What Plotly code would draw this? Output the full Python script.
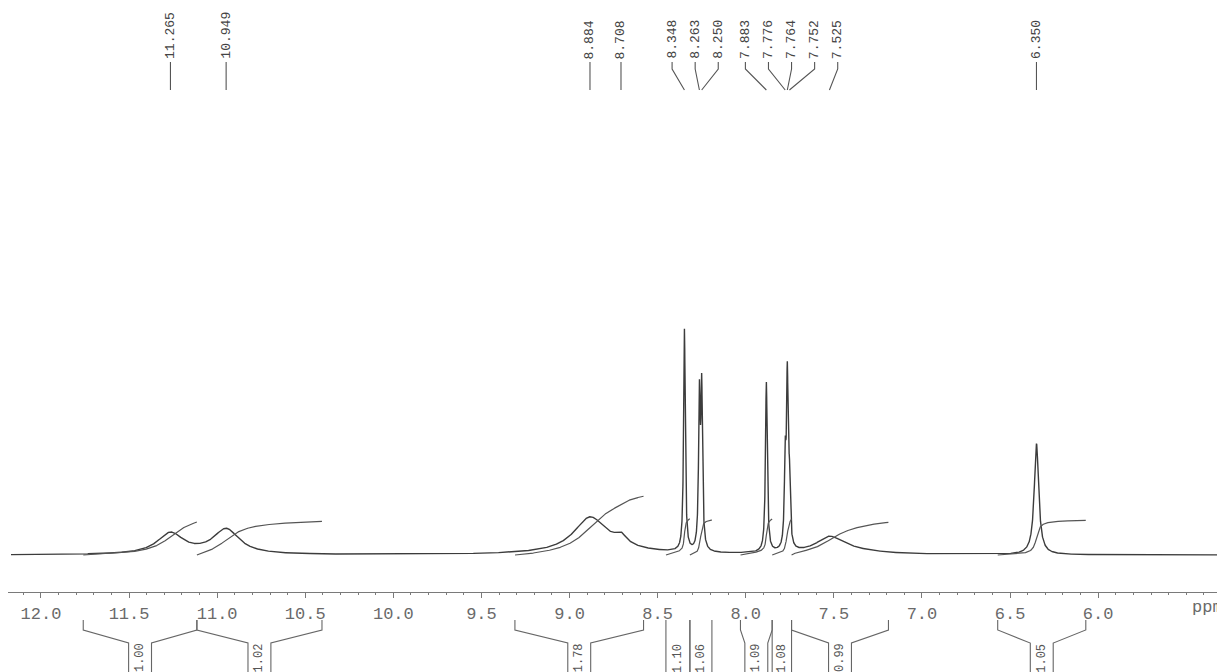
import numpy as np
import plotly.graph_objects as go

# ---------------- data ----------------
# labelled peaks (chemical shift, ppm)
peak_ppm = [11.265, 10.949, 8.884, 8.708, 8.348, 8.263, 8.250, 7.883, 7.776, 7.764, 7.752, 7.525, 6.350]
peak_height = [21, 25, 33, 9, 222, 148, 156, 170, 82, 165, 61, 15, 111]
peak_fwhm = [0.18, 0.18, 0.22, 0.08, 0.011, 0.011, 0.011, 0.012, 0.011, 0.011, 0.011, 0.18, 0.03]
# unlabelled broad components under the humps
broad_ppm = [8.80, 7.42]
broad_height = [5, 4]
broad_fwhm = [0.5, 0.4]

# integration regions and values
integral_start = [11.76, 11.115, 9.31, 8.453, 8.317, 8.03, 7.85, 7.74, 6.57]
integral_end = [11.115, 10.405, 8.58, 8.317, 8.192, 7.85, 7.74, 7.19, 6.07]
integral_value = [1.00, 1.02, 1.78, 1.10, 1.06, 1.09, 1.08, 0.99, 1.05]

# axis ticks
tick_vals = [12.0, 11.5, 11.0, 10.5, 10.0, 9.5, 9.0, 8.5, 8.0, 7.5, 7.0, 6.5, 6.0, 5.5]
tick_text = ["12.0", "11.5", "11.0", "10.5", "10.0", "9.5", "9.0", "8.5", "8.0", "7.5", "7.0", "6.5", "6.0", ""]

# ---------------- styling ----------------
W, H = 1217, 664            # page adds an 8px body margin
X_RANGE = [12.187, 5.28]
INT_SCALE = 33.0            # integral rise per unit
LINE_C = "#3c3c3c"
INT_C = "#555555"
AXIS_C = "#7a7a7a"
MONO = "Liberation Mono"
AXIS_PX = 584               # axis line position inside the figure

# ---------------- spectrum ----------------
ppm = np.linspace(12.17, 5.28, 16000)


def lorentz(x, c, h, w):
    hw = w / 2.0
    return h / (1.0 + ((x - c) / hw) ** 2)


spec = np.zeros_like(ppm)
for c, h, w in zip(peak_ppm, peak_height, peak_fwhm):
    spec += lorentz(ppm, c, h, w)
for c, h, w in zip(broad_ppm, broad_height, broad_fwhm):
    spec += lorentz(ppm, c, h, w)

fig = go.Figure()
fig.add_trace(go.Scatter(x=ppm, y=spec, mode="lines",
                         line=dict(color=LINE_C, width=1.4), hoverinfo="skip", showlegend=False))

# integral curves
for a, b, v in zip(integral_start, integral_end, integral_value):
    m = (ppm <= a) & (ppm >= b)
    xs = ppm[m]
    ys = spec[m]
    cum = np.cumsum(ys)
    cum = cum - cum[0]
    cum = cum / cum[-1] * v * INT_SCALE
    fig.add_trace(go.Scatter(x=xs, y=cum, mode="lines",
                             line=dict(color=INT_C, width=1.2), hoverinfo="skip", showlegend=False))

# ---------------- peak labels (spread to avoid overlap) ----------------
GAP = 0.131
order = sorted(range(len(peak_ppm)), key=lambda i: -peak_ppm[i])
groups = [[i] for i in order]


def group_positions(g):
    c = np.mean([peak_ppm[i] for i in g])
    n = len(g)
    return [c + (n - 1) / 2.0 * GAP - k * GAP for k in range(n)]


changed = True
while changed:
    changed = False
    for gi in range(len(groups) - 1):
        p1 = group_positions(groups[gi])
        p2 = group_positions(groups[gi + 1])
        if p1[-1] - p2[0] < GAP - 1e-9:
            groups[gi] = groups[gi] + groups[gi + 1]
            del groups[gi + 1]
            changed = True
            break

label_pos = {}
for g in groups:
    for i, p in zip(g, group_positions(g)):
        label_pos[i] = p

lx, ly = [], []
Y_TXT, Y_BEND, Y_END = 493, 486, 465
for i in order:
    lx += [label_pos[i], label_pos[i], peak_ppm[i], None]
    ly += [Y_TXT, Y_BEND, Y_END, None]
fig.add_trace(go.Scatter(x=lx, y=ly, mode="lines", line=dict(color="#555555", width=1.1),
                         hoverinfo="skip", showlegend=False))

annotations = []
for i in order:
    annotations.append(dict(x=label_pos[i], y=Y_TXT + 1, xref="x", yref="y",
                            text="%.3f" % peak_ppm[i], textangle=-90, showarrow=False,
                            xanchor="center", yanchor="bottom",
                            font=dict(family=MONO, size=13, color="#444444")))

# ---------------- integration brackets (below axis) ----------------
BW = 0.065
Y_TOP, Y_MID, Y_LOW, Y_BOT = 52, 42, 29, -2
bx, by = [], []
for a, b, v in zip(integral_start, integral_end, integral_value):
    c = (a + b) / 2.0
    if (a - b) / 2.0 < 0.075:
        bx += [a, a, None, b, b, None]
        by += [Y_TOP, Y_BOT, None, Y_TOP, Y_BOT, None]
    else:
        bx += [a, a, c + BW, c + BW, None, b, b, c - BW, c - BW, None]
        by += [Y_TOP, Y_MID, Y_LOW, Y_BOT, None, Y_TOP, Y_MID, Y_LOW, Y_BOT, None]
    annotations.append(dict(x=c, y=14, xref="x", yref="y2", text="%.2f" % v, textangle=-90,
                            showarrow=False, xanchor="center", yanchor="middle",
                            font=dict(family=MONO, size=12, color="#555555")))
fig.add_trace(go.Scatter(x=bx, y=by, yaxis="y2", mode="lines", line=dict(color="#666666", width=1.1),
                         hoverinfo="skip", showlegend=False))

annotations.append(dict(x=5.48, y=65, xref="x", yref="y2", text="ppm", showarrow=False,
                        xanchor="left", yanchor="middle",
                        font=dict(family=MONO, size=17, color="#6a6a6a")))

minor_vals = [round(v, 2) for v in np.arange(5.3, 12.25, 0.1)]

bottom_frac = (H - AXIS_PX) / H
fig.update_layout(
    width=W, height=H,
    margin=dict(l=0, r=0, t=0, b=0),
    paper_bgcolor="white", plot_bgcolor="white",
    showlegend=False,
    annotations=annotations,
    xaxis=dict(range=X_RANGE, anchor="y", showline=True, linecolor=AXIS_C, linewidth=1.2,
               ticks="outside", ticklen=5, tickwidth=1.2, tickcolor=AXIS_C,
               tickmode="array", tickvals=tick_vals, ticktext=tick_text,
               tickfont=dict(family=MONO, size=17, color="#6a6a6a"),
               minor=dict(tickmode="array", tickvals=minor_vals, ticks="outside", ticklen=2,
                          tickcolor=AXIS_C, showgrid=False),
               showgrid=False, zeroline=False),
    yaxis=dict(domain=[bottom_frac, 1], range=[-37, 547], visible=False, fixedrange=True),
    yaxis2=dict(domain=[0, bottom_frac], range=[0, 80], visible=False, fixedrange=True),
)

fig.write_html("out.html")
